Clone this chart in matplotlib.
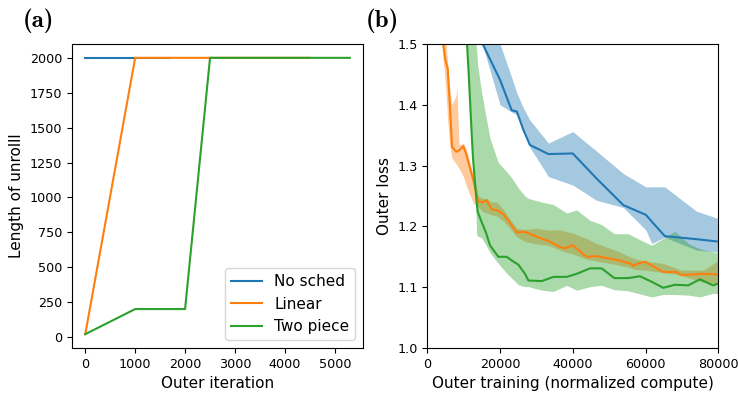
import matplotlib
matplotlib.use("Agg")
import matplotlib.pyplot as plt

plt.rcParams["font.family"] = ["DejaVu Sans"]
plt.rcParams["font.size"] = 11
plt.rcParams["xtick.labelsize"] = 9.2
plt.rcParams["ytick.labelsize"] = 9.2

# ---- (a) unroll-length schedules ----
sched_names = ["No sched", "Linear", "Two piece"]
nosched_iter = [0, 1700]
nosched_len = [2000, 2000]
linear_iter = [0, 1000, 4500]
linear_len = [20, 2000, 2000]
twopiece_iter = [0, 1000, 2000, 2500, 5300]
twopiece_len = [20, 200, 200, 2000, 2000]

# ---- (b) outer loss vs. normalized compute (mean, lower, upper) ----
nosched_x = [14500, 15230, 20000, 23200, 24600, 26400, 28200, 33300, 40000,
             46500, 53900, 60100, 61700, 65300, 74000, 80000]
nosched_mean = [1.515, 1.500, 1.441, 1.391, 1.389, 1.359, 1.334, 1.319, 1.320,
                1.279, 1.235, 1.219, 1.208, 1.184, 1.179, 1.175]
nosched_lo = [1.513, 1.498, 1.400, 1.388, 1.384, 1.356, 1.330, 1.282, 1.268,
              1.243, 1.231, 1.194, 1.172, 1.182, 1.161, 1.158]
nosched_hi = [1.53, 1.53, 1.50, 1.445, 1.42, 1.395, 1.375, 1.337, 1.356,
              1.324, 1.287, 1.265, 1.265, 1.265, 1.225, 1.213]

linear_x = [3700, 4400, 4950, 5600, 6240, 6790, 7890, 8150, 8700, 9260, 9900,
            10640, 12650, 14020, 15120, 16330, 17700, 19080, 20900, 22740,
            24570, 26860, 30070, 33270, 36480, 37850, 39960, 43810, 46560,
            52060, 55720, 56630, 57540, 59840, 64870, 68530, 69900, 75850, 80000]
linear_mean = [1.54, 1.500, 1.474, 1.460, 1.397, 1.331, 1.323, 1.323, 1.325,
               1.328, 1.332, 1.320, 1.276, 1.241, 1.240, 1.243, 1.228, 1.227,
               1.220, 1.206, 1.190, 1.191, 1.183, 1.176, 1.166, 1.164, 1.169,
               1.150, 1.151, 1.145, 1.139, 1.135, 1.138, 1.142, 1.125, 1.125,
               1.120, 1.122, 1.121]
linear_lo = [1.52, 1.47, 1.44, 1.375, 1.33, 1.312, 1.303, 1.301, 1.296, 1.290,
             1.282, 1.268, 1.238, 1.232, 1.225, 1.222, 1.219, 1.217, 1.209,
             1.197, 1.183, 1.175, 1.171, 1.169, 1.161, 1.158, 1.155, 1.146,
             1.143, 1.137, 1.132, 1.130, 1.129, 1.128, 1.124, 1.121, 1.119,
             1.108, 1.106]
linear_hi = [1.60, 1.55, 1.515, 1.47, 1.42, 1.40, 1.415, 1.43, 1.335, 1.335,
             1.337, 1.328, 1.285, 1.250, 1.246, 1.246, 1.240, 1.240, 1.228,
             1.212, 1.197, 1.195, 1.197, 1.194, 1.194, 1.192, 1.189, 1.180,
             1.172, 1.160, 1.150, 1.148, 1.146, 1.143, 1.139, 1.131, 1.128,
             1.128, 1.144]

twopiece_x = [10700, 10920, 11370, 11830, 12290, 12570, 13120, 13580, 13850,
              14950, 16050, 17230, 19520, 21820, 23200, 25040, 26860, 27790,
              31450, 34670, 38320, 41060, 44720, 47930, 51400, 55260, 58460,
              61670, 64870, 68070, 71740, 74940, 78600, 80000]
twopiece_mean = [1.53, 1.500, 1.452, 1.397, 1.342, 1.312, 1.271, 1.240, 1.224,
                 1.207, 1.191, 1.169, 1.150, 1.150, 1.144, 1.137, 1.122, 1.111,
                 1.110, 1.117, 1.117, 1.122, 1.131, 1.131, 1.115, 1.115, 1.118,
                 1.109, 1.099, 1.104, 1.103, 1.113, 1.103, 1.106]
twopiece_lo = [1.528, 1.498, 1.450, 1.395, 1.340, 1.310, 1.269, 1.186, 1.184,
               1.181, 1.170, 1.157, 1.139, 1.123, 1.115, 1.104, 1.101, 1.101,
               1.095, 1.093, 1.103, 1.095, 1.101, 1.103, 1.096, 1.094, 1.089,
               1.084, 1.088, 1.088, 1.087, 1.084, 1.090, 1.089]
twopiece_hi = [1.60, 1.60, 1.58, 1.56, 1.54, 1.53, 1.51, 1.49, 1.465, 1.42,
               1.383, 1.345, 1.305, 1.29, 1.28, 1.263, 1.25, 1.246, 1.240,
               1.236, 1.222, 1.227, 1.210, 1.203, 1.188, 1.188, 1.178, 1.169,
               1.180, 1.192, 1.172, 1.163, 1.158, 1.157]

colors = ["#1f77b4", "#ff7f0e", "#2ca02c"]

fig = plt.figure(figsize=(7.38, 3.93), dpi=100)
ax_a = fig.add_axes([0.0976, 0.1145, 0.3943, 0.7735])
ax_b = fig.add_axes([0.579, 0.1145, 0.3943, 0.7735])

# panel (a)
for xs, ys, c, name in zip([nosched_iter, linear_iter, twopiece_iter],
                           [nosched_len, linear_len, twopiece_len],
                           colors, sched_names):
    ax_a.plot(xs, ys, color=c, lw=1.5, label=name)
ax_a.set_xticks(range(0, 5001, 1000))
ax_a.set_yticks(range(0, 2001, 250))
ax_a.set_xlabel("Outer iteration")
ax_a.set_ylabel("Length of unrolll")
ax_a.legend(loc="lower right", fontsize=11)

# panel (b)
series = [
    (nosched_x, nosched_mean, nosched_lo, nosched_hi),
    (linear_x, linear_mean, linear_lo, linear_hi),
    (twopiece_x, twopiece_mean, twopiece_lo, twopiece_hi),
]
for (xs, m, lo, hi), c in zip(series, colors):
    ax_b.plot(xs, m, color=c, lw=1.5)
    ax_b.fill_between(xs, lo, hi, color=c, alpha=0.4, lw=0)
ax_b.set_xlim(0, 80000)
ax_b.set_ylim(1.0, 1.5)
ax_b.set_xticks(range(0, 80001, 20000))
ax_b.set_yticks([1.0, 1.1, 1.2, 1.3, 1.4, 1.5])
ax_b.set_xlabel("Outer training (normalized compute)")
ax_b.set_ylabel("Outer loss")

# bold Computer Modern panel tags
fig.text(23 / 738, 1 - 27 / 393, "(a)", fontsize=18, va="baseline",
         family=["cmb10", "DejaVu Serif"])
fig.text(366 / 738, 1 - 27 / 393, "(b)", fontsize=18, va="baseline",
         family=["cmb10", "DejaVu Serif"])

fig.savefig("out.png", dpi=100)
